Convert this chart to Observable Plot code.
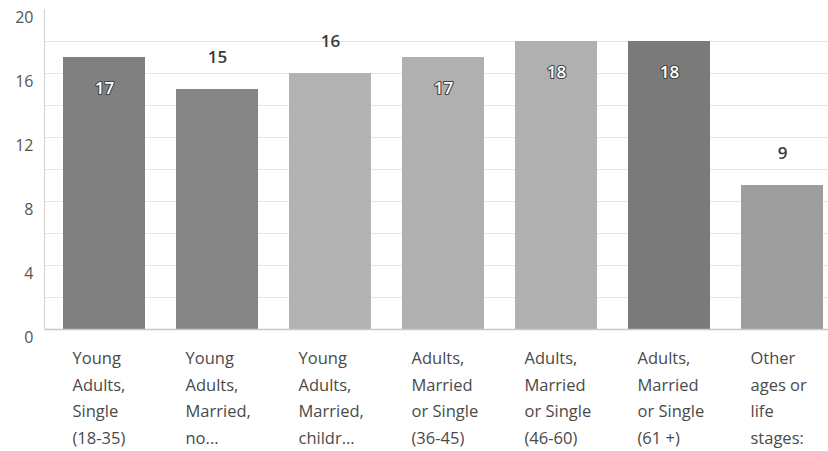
<!DOCTYPE html>
<html>
<head>
<meta charset="utf-8">
<script src="https://cdn.jsdelivr.net/npm/d3@7"></script>
<script src="https://cdn.jsdelivr.net/npm/@observablehq/plot@0.6"></script>
<style>
  html, body { margin: 0; padding: 0; background: #fff; }
  #chart svg { display: block; }
</style>
</head>
<body>
<div id="chart"></div>
<script>
const categories = [
  "Young Adults, Single (18-35)",
  "Young Adults, Married, no...",
  "Young Adults, Married, childr...",
  "Adults, Married or Single (36-45)",
  "Adults, Married or Single (46-60)",
  "Adults, Married or Single (61 +)",
  "Other ages or life stages:"
];
const tickLabels = [
  "Young\nAdults,\nSingle\n(18-35)",
  "Young\nAdults,\nMarried,\nno...",
  "Young\nAdults,\nMarried,\nchildr...",
  "Adults,\nMarried\nor Single\n(36-45)",
  "Adults,\nMarried\nor Single\n(46-60)",
  "Adults,\nMarried\nor Single\n(61 +)",
  "Other\nages or\nlife\nstages:"
];
const values = [17, 15, 16, 17, 18, 18, 9];
const barColors = ["#808080", "#858585", "#b3b3b3", "#b0b0b0", "#b0b0b0", "#7a7a7a", "#9e9e9e"];
const yTicks = [0, 4, 8, 12, 16, 20];
const yGrid = [2, 4, 6, 8, 10, 12, 14, 16, 18];

const data = categories.map((c, i) => ({cat: c, value: values[i], color: barColors[i], label: tickLabels[i]}));
const inside = data.filter(d => d.value > 16);
const outside = data.filter(d => d.value <= 16);

const font = "'Open Sans', sans-serif";
const W = 828, H = 451;
const mL = 44, plotBottom = 329, mT = 9;

const chart = Plot.plot({
  width: W,
  height: H,
  marginLeft: mL,
  marginTop: mT,
  marginBottom: H - plotBottom,
  marginRight: 0,
  style: {fontFamily: font, background: "#fff", overflow: "hidden"},
  x: {domain: categories, range: [44.6, 840.9], paddingInner: 0.27, paddingOuter: 0.135, axis: null},
  y: {domain: [0, 20], axis: null},
  marks: [
    Plot.ruleY(yGrid, {stroke: "#e6e6e6", strokeWidth: 1}),
    Plot.barY(data, {x: "cat", y: "value", fill: "color"}),
    Plot.ruleY([0], {stroke: "#c8c8c8", strokeWidth: 1.5}),
    Plot.frame({anchor: "left", stroke: "#d0d0d0"}),
    Plot.axisY(yTicks, {
      label: null, tickSize: 0, tickPadding: 11, dy: 8,
      fontSize: 16, fill: "#555", textAnchor: "end"
    }),
    Plot.text(outside, {
      x: "cat", y: "value", text: d => String(d.value), dy: -32,
      fontSize: 17, fontWeight: 600, fill: "#3a3a3a", lineAnchor: "middle"
    }),
    Plot.text(inside, {
      x: "cat", y: "value", text: d => String(d.value), dy: 31,
      fontSize: 17, fontWeight: 600, fill: "#fff", stroke: "#444", strokeWidth: 2.2,
      lineAnchor: "middle"
    }),
    Plot.text(data, {
      x: "cat", y: 0, text: "label", dx: -32, dy: 16,
      textAnchor: "start", lineAnchor: "top", lineHeight: 26.5 / 16.5,
      fontSize: 16.5, fill: "#4a4a4a", letterSpacing: "0.9px"
    })
  ]
});
document.getElementById("chart").appendChild(chart);
</script>
</body>
</html>
